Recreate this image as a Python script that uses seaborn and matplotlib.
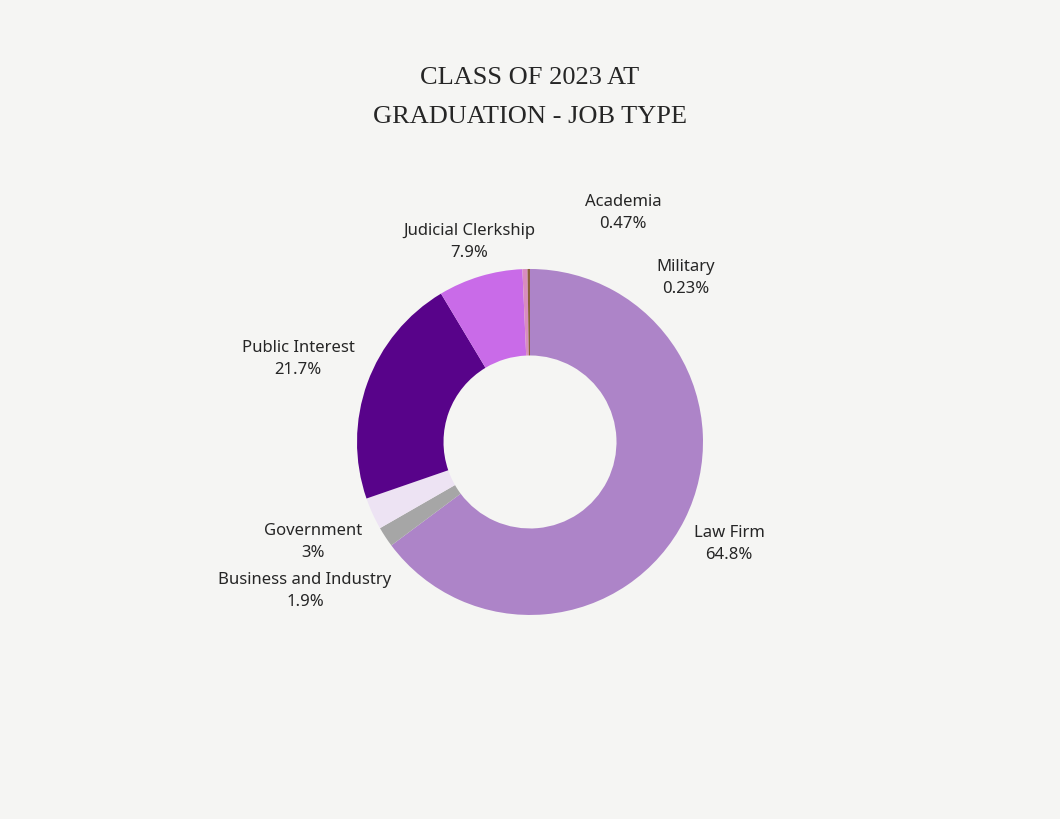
import matplotlib
matplotlib.use("Agg")
import matplotlib.pyplot as plt
import seaborn as sns

categories = ["Law Firm", "Business and Industry", "Government", "Public Interest",
              "Judicial Clerkship", "Academia", "Military"]
values = [64.8, 1.9, 3.0, 21.7, 7.9, 0.47, 0.23]
value_labels = ["64.8%", "1.9%", "3%", "21.7%", "7.9%", "0.47%", "0.23%"]
colors = ["#AD84C8", "#A6A6A6", "#EDE3F3", "#58038A", "#C96BE8", "#D98CC0", "#8B5E3C"]

sns.set_theme(style="white", rc={"figure.facecolor": "#F5F5F3", "axes.facecolor": "#F5F5F3"})
fig = plt.figure(figsize=(10.6, 8.19), dpi=100)
ax = fig.add_axes([0.5 - 0.1632, 0.4603 - 0.2112, 0.3264, 0.4225])
ax.pie(values, colors=sns.color_palette(colors), startangle=90, counterclock=False,
       wedgeprops=dict(width=0.5, edgecolor="none"))
ax.set_xlim(-1, 1); ax.set_ylim(-1, 1); ax.set_aspect("equal"); ax.axis("off")

fig.text(0.5, 0.905, "CLASS OF 2023 AT", ha="center", va="center",
         fontfamily="Liberation Serif", fontsize=19)
fig.text(0.5, 0.857, "GRADUATION - JOB TYPE", ha="center", va="center",
         fontfamily="Liberation Serif", fontsize=19)

# label anchor positions (pixels) for each category
label_pos = [(729, 543), (305, 590), (313, 541), (298, 358), (469, 241), (623, 212), (686, 277)]
for name, lab, (px, py) in zip(categories, value_labels, label_pos):
    fig.text(px / 1060, 1 - (py - 10) / 819, name, ha="center", va="center",
             fontfamily="Noto Sans", fontsize=12)
    fig.text(px / 1060, 1 - (py + 12) / 819, lab, ha="center", va="center",
             fontfamily="Noto Sans", fontsize=12)

fig.savefig("out.png", dpi=100, facecolor=fig.get_facecolor())
